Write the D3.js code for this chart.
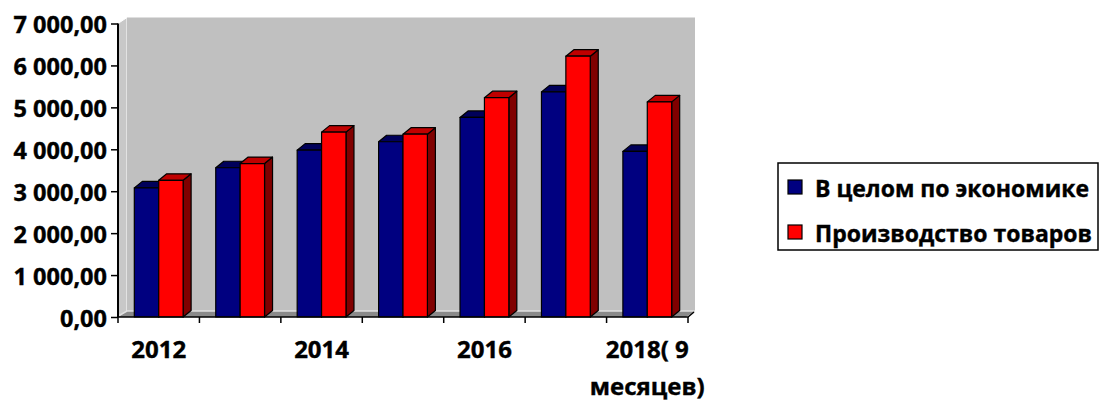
<!DOCTYPE html>
<html>
<head>
<meta charset="utf-8">
<script src="https://cdn.jsdelivr.net/npm/d3@7"></script>
<style>
	body { margin: 0; background: #fff; }
	text { font-family: "Open Sans", "DejaVu Sans", sans-serif; font-weight: bold; fill: #000; }
</style>
</head>
<body>
<svg id="chart"></svg>
<script>
const categories = ["2012", "2013", "2014", "2015", "2016", "2017", "2018( 9 месяцев)"];
const shownLabels = [["2012"], [], ["2014"], [], ["2016"], [], ["2018( 9", "месяцев)"]];
const seriesNames = ["В целом по экономике", "Производство товаров"];
const economy = [3080, 3560, 3980, 4180, 4760, 5370, 3950];
const goods = [3260, 3660, 4410, 4360, 5230, 6220, 5130];
const yTicks = [0, 1000, 2000, 3000, 4000, 5000, 6000, 7000];

const width = 1099, height = 401;
const x0 = 118, x1 = 688, y0 = 317, yTop = 23.5;
const dx = 8, dy = 6.5;      // depth of the 3d boxes
const wdx = 9, wdy = 6;      // depth of the walls

const frontColors = ["#000080", "#ff0000"];
const topColors = ["#00005a", "#c00000"];
const sideColors = ["#00004a", "#800000"];

const svg = d3.select("#chart").attr("width", width).attr("height", height);

const x = d3.scaleBand().domain(categories).range([x0, x1]).padding(0);
const y = d3.scaleLinear().domain([0, 7000]).range([y0, yTop]);

const fmt = v => d3.format(",.2f")(v).replace(/,/g, " ").replace(".", ",");

// walls
const walls = svg.append("g");
walls.append("path")
	.attr("d", `M${x0},${y(7000)} L${x0 + wdx},${y(7000) - wdy} L${x0 + wdx},${y0 - wdy} L${x0},${y0} Z`)
	.attr("fill", "#c8c8c8").attr("stroke", "#fff").attr("stroke-width", 1);
walls.append("rect")
	.attr("x", x0 + wdx).attr("y", y(7000) - wdy)
	.attr("width", x1 + wdx - 2 - (x0 + wdx)).attr("height", y0 - y(7000))
	.attr("fill", "#c0c0c0");
walls.append("path")
	.attr("d", `M${x0},${y0} L${x0 + wdx},${y0 - wdy} L${x1 + wdx - 2},${y0 - wdy} L${x1 - 2},${y0} Z`)
	.attr("fill", "#8a8a8a");
walls.append("path")
	.attr("d", `M${x0 + 1},${y0 - 1.5} L${x0 + wdx},${y0 - wdy} L${x1 + wdx - 2},${y0 - wdy}`)
	.attr("fill", "none").attr("stroke", "#e0e0e0").attr("stroke-width", 1.5);

// bars
const bars = svg.append("g");
const data = categories.map((c, i) => ({ c, values: [economy[i], goods[i]] }));
data.forEach(d => {
	const cx = x(d.c) + x.bandwidth() / 2;
	const inner = d3.scaleBand().domain([0, 1]).range([cx - 24.4, cx + 24.4]).padding(0);
	d.values.forEach((v, s) => {
		const bx = inner(s), bw = inner.bandwidth(), by = y(v);
		const g = bars.append("g").attr("stroke", "#000").attr("stroke-width", 1.2).attr("stroke-linejoin", "round");
		g.append("path")
			.attr("d", `M${bx + bw},${by} L${bx + bw + dx},${by - dy} L${bx + bw + dx},${y0 - dy} L${bx + bw},${y0} Z`)
			.attr("fill", sideColors[s]);
		g.append("path")
			.attr("d", `M${bx},${by} L${bx + dx},${by - dy} L${bx + bw + dx},${by - dy} L${bx + bw},${by} Z`)
			.attr("fill", topColors[s]);
		g.append("rect")
			.attr("x", bx).attr("y", by).attr("width", bw).attr("height", y0 - by)
			.attr("fill", frontColors[s]);
	});
});

// y axis
const yAxis = svg.append("g")
	.attr("transform", `translate(${x0},0)`)
	.call(d3.axisLeft(y).tickValues(yTicks).tickSize(7).tickPadding(4).tickFormat(fmt));
yAxis.select(".domain").attr("stroke", "#000").attr("stroke-width", 2).attr("d", `M0,${y(7000)}V${y0}`);
yAxis.selectAll(".tick line").attr("stroke", "#000").attr("stroke-width", 1.5);
yAxis.selectAll(".tick text")
	.attr("font-size", 23.5)
	.attr("stroke", "#000").attr("stroke-width", 0.4)
	.attr("dy", "0.4em");

// x axis
const xAxis = svg.append("g");
xAxis.append("path")
	.attr("d", `M${x0},${y0} H${x1} L${x1 + 6},${y0 - 5}`)
	.attr("fill", "none").attr("stroke", "#000").attr("stroke-width", 1.5);
xAxis.selectAll("line.tick")
	.data(categories.concat(["end"]))
	.enter().append("line")
	.attr("class", "tick")
	.attr("x1", (d, i) => i < categories.length ? x(d) : x1)
	.attr("x2", (d, i) => i < categories.length ? x(d) : x1)
	.attr("y1", y0).attr("y2", y0 + 6)
	.attr("stroke", "#000").attr("stroke-width", 1.5);
categories.forEach((c, i) => {
	const t = xAxis.append("text")
		.attr("x", x(c) + x.bandwidth() / 2)
		.attr("text-anchor", "middle")
		.attr("font-size", 24)
		.attr("stroke", "#000").attr("stroke-width", 0.4);
	shownLabels[i].forEach((line, k) => {
		t.append("tspan").attr("x", x(c) + x.bandwidth() / 2).attr("y", 358 + k * 37).text(line);
	});
});

// legend
const legend = svg.append("g");
legend.append("rect")
	.attr("x", 778).attr("y", 163).attr("width", 320).attr("height", 87)
	.attr("fill", "#fff").attr("stroke", "#000").attr("stroke-width", 1.5);
seriesNames.forEach((name, i) => {
	legend.append("rect")
		.attr("x", 788).attr("y", 180 + i * 45).attr("width", 14).attr("height", 14)
		.attr("fill", frontColors[i]).attr("stroke", "#000").attr("stroke-width", 1.2);
	legend.append("text")
		.attr("x", 815).attr("y", 197 + i * 45)
		.attr("font-size", 23)
		.attr("stroke", "#000").attr("stroke-width", 0.4)
		.text(name);
});
</script>
</body>
</html>
